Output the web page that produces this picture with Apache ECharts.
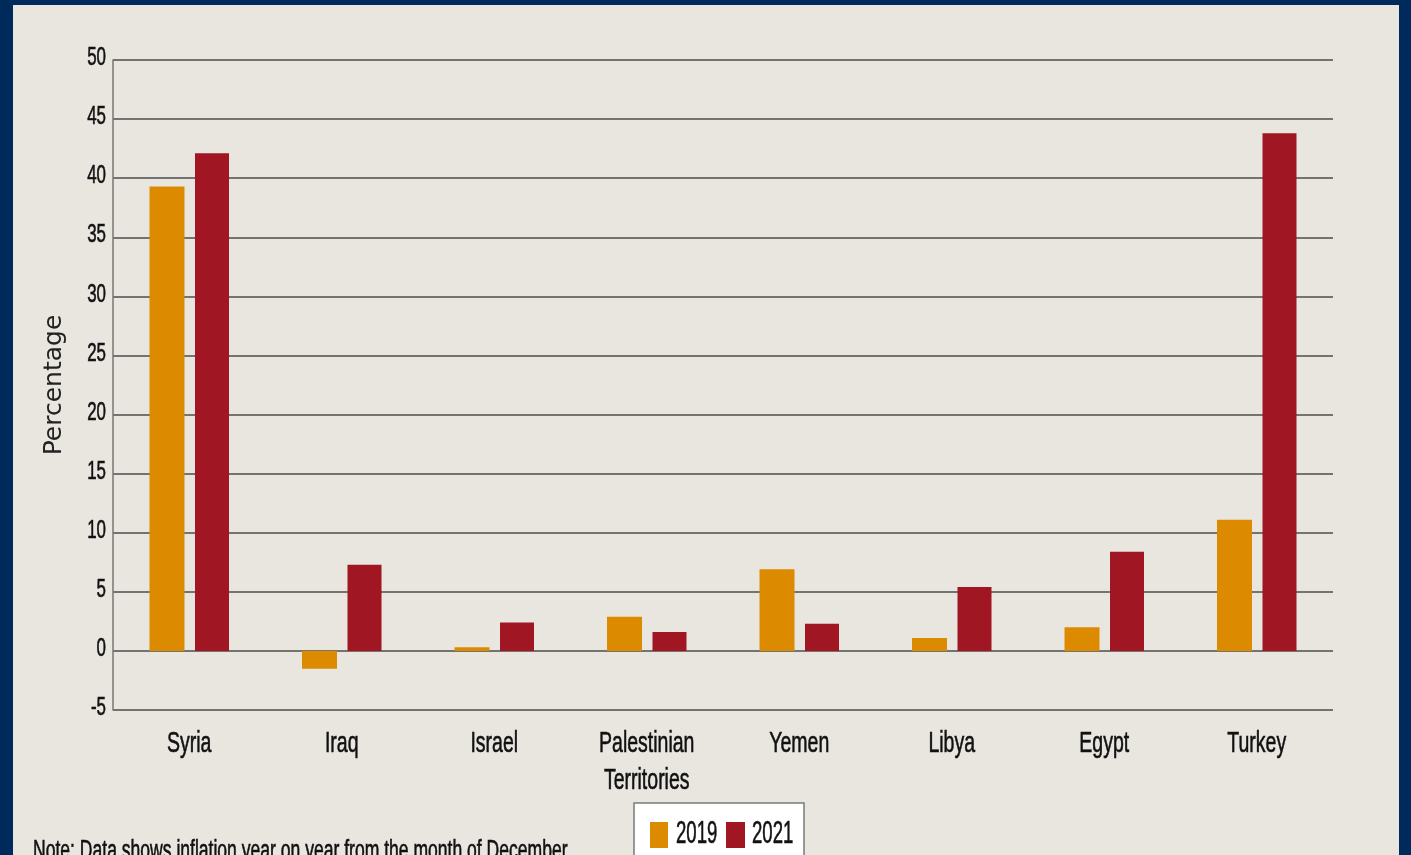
<!DOCTYPE html>
<html>
<head>
<meta charset="utf-8">
<title>Inflation, 2019 and 2021</title>
<script src="https://cdn.jsdelivr.net/npm/echarts@6/dist/echarts.min.js"></script>
<style>
  html, body { margin: 0; padding: 0; width: 1411px; height: 855px; overflow: hidden; background: #012a5c; }
  #chart { position: absolute; left: 13px; top: 5px; width: 1386px; height: 850px; background: #e9e6e0; }
</style>
</head>
<body>
<div id="chart"></div>
<script>
// Countries along the x axis
const countries = ['Syria', 'Iraq', 'Israel', 'Palestinian\nTerritories', 'Yemen', 'Libya', 'Egypt', 'Turkey'];
// Year-on-year inflation in December, percent
const inflation2019 = [39.3, -1.5, 0.3, 2.9, 6.9, 1.1, 2.0, 11.1];
const inflation2021 = [42.1, 7.3, 2.4, 1.6, 2.3, 5.4, 8.4, 43.8];
const seriesNames = ['2019', '2021'];
// Value-axis ticks
const yTicks = [-5, 0, 5, 10, 15, 20, 25, 30, 35, 40, 45, 50];
const noteText = 'Note: Data shows inflation year on year from the month of December';

// Condensed look: Arial-metric face squeezed horizontally
const FACE = "'Liberation Sans', Arial, sans-serif";
const SQUEEZE = 0.65;
const ORANGE = '#dc8b00';
const RED = '#a01723';
const INK = '#111111';
const GRID = { left: 100, top: 55, width: 1220, height: 650 };

const chart = echarts.init(document.getElementById('chart'), null, { renderer: 'canvas' });

chart.setOption({
  animation: false,
  backgroundColor: '#e9e6e0',
  grid: { left: GRID.left, top: GRID.top, width: GRID.width, height: GRID.height, containLabel: false },
  xAxis: {
    type: 'category',
    data: countries,
    axisLine: { show: false, onZero: false },
    axisTick: { show: false },
    axisLabel: { show: false }
  },
  yAxis: {
    type: 'value',
    min: yTicks[0],
    max: yTicks[yTicks.length - 1],
    interval: yTicks[1] - yTicks[0],
    name: 'Percentage',
    nameLocation: 'middle',
    nameGap: 46,
    nameTextStyle: { fontFamily: "'DejaVu Sans', sans-serif", fontSize: 25, color: '#222' },
    axisLine: { show: true, lineStyle: { color: '#767676', width: 1.5 } },
    axisTick: { show: false },
    axisLabel: { show: false },
    splitLine: { show: true, lineStyle: { color: '#4c4c4c', width: 1.6 } }
  },
  series: [
    {
      name: seriesNames[0],
      type: 'bar',
      data: inflation2019,
      barWidth: 35,
      barGap: '30%',
      itemStyle: { color: ORANGE }
    },
    {
      name: seriesNames[1],
      type: 'bar',
      data: inflation2021,
      barWidth: 34,
      itemStyle: { color: RED }
    }
  ]
});

// Narrow text labels, placed through the chart's own scales
function narrowText(text, x, y, size, align, vAlign, extra) {
  return Object.assign({
    type: 'text',
    x: x,
    y: y,
    scaleX: SQUEEZE,
    silent: true,
    style: {
      text: text, fontFamily: FACE, fontSize: size, fill: INK,
      stroke: INK, lineWidth: 0.6,
      align: align, verticalAlign: vAlign
    }
  }, extra || {});
}

const elements = [];
const axisBottom = chart.convertToPixel({ yAxisIndex: 0 }, yTicks[0]);

countries.forEach(function (name, i) {
  const cx = chart.convertToPixel({ xAxisIndex: 0 }, i);
  const el = narrowText(name, cx, axisBottom + 15, 30, 'center', 'top');
  el.style.lineHeight = 37;
  elements.push(el);
});

yTicks.forEach(function (v) {
  const py = chart.convertToPixel({ yAxisIndex: 0 }, v);
  elements.push(narrowText(String(v), GRID.left - 7, py - 2, 26, 'right', 'middle'));
});

// Footnote
elements.push(narrowText(noteText, 20, 847, 27, 'left', 'middle'));

// Legend box
const legend = { x: 621, y: 798, w: 170, h: 70 };
elements.push({
  type: 'rect',
  silent: true,
  shape: { x: legend.x, y: legend.y, width: legend.w, height: legend.h },
  style: { fill: '#ffffff', stroke: '#7a7a7a', lineWidth: 1.5 }
});
const legendItems = [
  { name: seriesNames[0], color: ORANGE, iconX: 637, iconW: 18, textX: 663 },
  { name: seriesNames[1], color: RED, iconX: 713, iconW: 19, textX: 739 }
];
legendItems.forEach(function (it) {
  elements.push({
    type: 'rect',
    silent: true,
    shape: { x: it.iconX, y: 817, width: it.iconW, height: 26 },
    style: { fill: it.color }
  });
  elements.push(narrowText(it.name, it.textX, 829, 31, 'left', 'middle', { scaleX: 0.6 }));
});

chart.setOption({ graphic: elements });
</script>
</body>
</html>
